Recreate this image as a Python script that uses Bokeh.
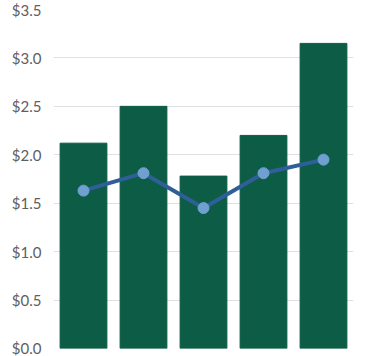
from bokeh.plotting import figure
from bokeh.models import ColumnDataSource, NumeralTickFormatter, FixedTicker, Range1d
from bokeh.embed import file_html
from bokeh.resources import INLINE

categories = ["A", "B", "C", "D", "E"]
bar_values = [2.12, 2.5, 1.78, 2.2, 3.15]
line_values = [1.63, 1.81, 1.45, 1.81, 1.95]
y_ticks = [0, 0.5, 1.0, 1.5, 2.0, 2.5, 3.0, 3.5]

src = ColumnDataSource(dict(cat=categories, bar=bar_values, line=line_values))

p = figure(width=373, height=356, x_range=categories, y_range=Range1d(0, 3.5),
           output_backend="svg", toolbar_location=None,
           min_border_left=53, min_border_right=20, min_border_top=9, min_border_bottom=8)
p.outline_line_color = None
p.background_fill_color = "white"

p.vbar(x="cat", top="bar", width=0.78, source=src, color="#0d5c45")
p.line(x="cat", y="line", source=src, line_color="#2e5f98", line_width=4)
p.scatter(x="cat", y="line", source=src, size=11, fill_color="#6fa0d0",
          line_color="#6fa0d0")

p.xaxis.visible = False
p.xgrid.grid_line_color = None
p.ygrid.grid_line_color = "#e0e0e0"
p.ygrid.grid_line_width = 1
p.yaxis.ticker = FixedTicker(ticks=y_ticks)
p.yaxis.formatter = NumeralTickFormatter(format="$0.0")
p.yaxis.axis_line_color = None
p.yaxis.major_tick_line_color = None
p.yaxis.minor_tick_line_color = None
p.yaxis.major_label_text_font = "Lato"
p.yaxis.major_label_text_font_size = "15px"
p.yaxis.major_label_text_color = "#606060"
p.yaxis.major_label_text_align = "right"
p.yaxis.major_label_standoff = 6
p.x_range.range_padding = 0

open("out.html", "w").write(file_html(p, INLINE))
